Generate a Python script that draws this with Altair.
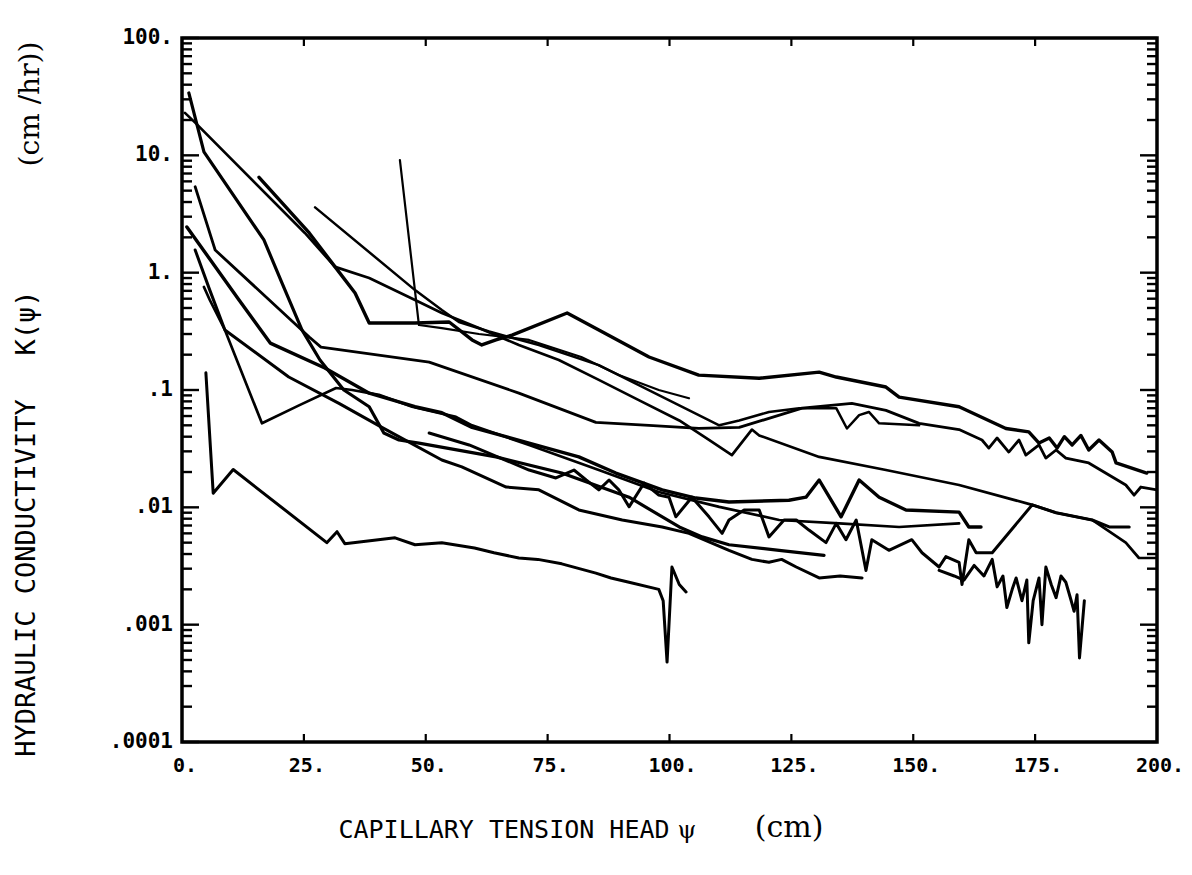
import altair as alt
import pandas as pd

# ---------------- curve data (psi in cm, K in cm/hr) ----------------
a_x = [4.9, 6.4, 10.5, 29.7, 31.8, 33.4, 43.7, 47.8, 53.3, 60.0, 64.0, 69.1, 73.0, 77.9, 84.9, 88.0, 91.7, 97.8, 98.7, 99.5, 100.5, 102.0, 103.4]
a_k = [0.14, 0.0132, 0.021, 0.0050, 0.0062, 0.0049, 0.0055, 0.0048, 0.0050, 0.0045, 0.0041, 0.0037, 0.0036, 0.0033, 0.00275, 0.0025, 0.0023, 0.0020, 0.0016, 0.00048, 0.0031, 0.0022, 0.0019]

b_x = [1.4, 4.5, 16.8, 20.5, 24.6, 28.3, 33.2, 38.4, 41.4, 44.5, 48.6, 64.4, 77.9, 91.7, 102.0, 106.7, 112.2, 122.5, 131.7]
b_k = [34, 10.7, 1.9, 0.82, 0.325, 0.18, 0.10, 0.072, 0.043, 0.0375, 0.0353, 0.0269, 0.0196, 0.0122, 0.0068, 0.0056, 0.0048, 0.0043, 0.0039]

p_x = [0.6, 2.7, 25.2, 31.4, 38.4, 47.8, 53.3, 60.9, 69.1, 77.3, 85.5, 93.7, 102.0, 108.1, 112.8, 116.9, 118.4, 130.7, 144.4, 159.4, 174.4, 179.3, 186.7, 193.6, 196.3, 200.0]
p_k = [23, 19, 2.18, 1.12, 0.90, 0.585, 0.453, 0.337, 0.242, 0.180, 0.122, 0.082, 0.055, 0.0375, 0.0279, 0.046, 0.041, 0.0269, 0.0208, 0.0155, 0.0105, 0.0090, 0.0078, 0.0050, 0.0037, 0.0037]

q_x = [15.8, 26.1, 31.4, 35.5, 38.4, 47.8, 54.8, 59.5, 61.5, 64.4, 67.7, 79.0, 85.5, 95.8, 106.0, 118.4, 130.7, 134.2, 144.4, 147.1, 159.4, 169.0, 173.7, 175.8, 177.9, 179.5, 181.0, 182.6, 184.4, 186.0, 188.1, 190.8, 191.6, 197.9]
q_k = [6.5, 2.18, 1.12, 0.67, 0.372, 0.372, 0.38, 0.267, 0.242, 0.267, 0.294, 0.453, 0.325, 0.191, 0.134, 0.126, 0.142, 0.129, 0.106, 0.087, 0.072, 0.047, 0.044, 0.0353, 0.039, 0.032, 0.040, 0.034, 0.041, 0.0308, 0.0375, 0.0296, 0.0239, 0.0196]

r_x = [27.3, 47.8, 53.3, 56.8, 63.0, 73.2, 85.5, 93.7, 102.0, 110.2, 114.3, 120.4, 126.6, 134.2, 136.4, 138.9, 140.9, 143.0, 151.2]
r_k = [3.6, 0.71, 0.48, 0.38, 0.315, 0.242, 0.163, 0.110, 0.074, 0.050, 0.055, 0.065, 0.070, 0.070, 0.047, 0.061, 0.065, 0.052, 0.050]

sp_x = [44.7, 48.6, 53.3, 60.9, 71.2, 81.9, 89.6, 97.8, 104.0]
sp_k = [9.1, 0.358, 0.337, 0.30, 0.267, 0.191, 0.134, 0.100, 0.085]

s_x = [2.7, 6.8, 26.1, 28.5, 50.7, 69.1, 84.9, 95.8, 106.0, 114.3, 127.2, 137.4, 144.4, 151.2, 159.4, 164.1, 165.5, 167.2, 169.6, 171.7, 173.1, 175.8, 177.2, 179.3, 181.3, 186.0, 193.6, 195.3, 196.7, 200.0]
s_k = [5.4, 1.56, 0.283, 0.232, 0.173, 0.094, 0.053, 0.050, 0.047, 0.048, 0.070, 0.077, 0.067, 0.052, 0.046, 0.0375, 0.032, 0.039, 0.0296, 0.0375, 0.0279, 0.034, 0.0263, 0.0308, 0.0263, 0.0239, 0.0155, 0.0127, 0.0149, 0.0141]

t_x = [1.0, 11.7, 18.1, 29.3, 38.4, 47.8, 53.3, 59.5, 71.2, 81.4, 89.0, 98.5, 105.4, 112.2, 124.5, 128.0, 130.7, 135.2, 138.9, 143.0, 148.5, 159.4, 161.4, 163.9]
t_k = [2.45, 0.585, 0.251, 0.154, 0.094, 0.072, 0.064, 0.048, 0.0353, 0.0269, 0.0196, 0.0141, 0.0120, 0.0111, 0.0115, 0.0122, 0.0171, 0.0083, 0.0171, 0.0122, 0.0095, 0.0091, 0.0068, 0.0068]

v_x = [4.5, 5.7, 8.8, 16.4, 24.0, 31.6, 34.9, 40.4, 47.2, 56.2, 59.5, 71.2, 85.5, 97.8, 110.2, 122.5, 134.8, 147.1, 159.4]
v_k = [0.755, 0.585, 0.325, 0.052, 0.074, 0.104, 0.100, 0.091, 0.072, 0.059, 0.050, 0.034, 0.0208, 0.0135, 0.0101, 0.0078, 0.0073, 0.0068, 0.0073]

w_x = [2.7, 5.7, 8.8, 21.9, 32.2, 41.0, 53.3, 57.4, 66.5, 73.2, 81.4, 90.3, 98.5, 104.0, 112.2, 116.9, 120.4, 123.0, 126.0, 130.7, 135.0, 139.5]
w_k = [1.56, 0.71, 0.325, 0.129, 0.077, 0.048, 0.0253, 0.0221, 0.0149, 0.0141, 0.0095, 0.0078, 0.0068, 0.0060, 0.0043, 0.0036, 0.0034, 0.0036, 0.0031, 0.0025, 0.0026, 0.0025]

n1_x = [50.7, 58.9, 71.2, 76.7, 80.4, 82.9, 85.5, 87.6, 89.6, 91.7, 94.8, 97.8, 99.9, 101.3, 104.6, 108.1, 110.8, 112.2, 115.3, 118.4, 120.4, 123.5, 126.0, 128.6, 132.1, 134.2, 136.2, 138.3, 140.3, 141.5, 145.0, 149.7, 151.8, 155.3, 156.7, 159.4, 160.0, 161.4, 162.9, 166.2, 174.4, 179.3, 186.7, 190.2, 194.3]
n1_k = [0.043, 0.034, 0.0208, 0.0178, 0.0208, 0.0171, 0.0141, 0.0171, 0.0141, 0.0101, 0.0161, 0.0127, 0.0122, 0.0083, 0.0122, 0.0083, 0.0060, 0.0078, 0.0095, 0.0095, 0.0056, 0.0078, 0.0078, 0.0064, 0.0050, 0.0073, 0.0053, 0.0078, 0.0029, 0.0053, 0.0043, 0.0053, 0.0041, 0.0031, 0.0038, 0.0034, 0.0022, 0.0053, 0.0041, 0.0041, 0.0105, 0.0090, 0.0078, 0.0068, 0.0068]

n2_x = [155.3, 158.4, 160.4, 162.5, 164.5, 166.2, 167.2, 168.4, 169.2, 170.3, 171.1, 172.3, 173.3, 173.7, 174.6, 175.8, 176.4, 177.2, 178.3, 179.3, 180.3, 181.3, 182.4, 183.0, 183.6, 184.1, 185.1]
n2_k = [0.0029, 0.0026, 0.0024, 0.0032, 0.0026, 0.0036, 0.0021, 0.0026, 0.0014, 0.0020, 0.0025, 0.0016, 0.0024, 0.0007, 0.0016, 0.0025, 0.0010, 0.0031, 0.0022, 0.0017, 0.0026, 0.0023, 0.0016, 0.0013, 0.0018, 0.00052, 0.0016]

curves = {
    "A": (a_x, a_k, 3.0), "B": (b_x, b_k, 3.2), "P": (p_x, p_k, 2.7),
    "Q": (q_x, q_k, 3.4), "R": (r_x, r_k, 2.5), "Sp": (sp_x, sp_k, 2.2),
    "S": (s_x, s_k, 2.8), "T": (t_x, t_k, 3.4), "V": (v_x, v_k, 2.7),
    "W": (w_x, w_k, 3.0), "N1": (n1_x, n1_k, 3.0), "N2": (n2_x, n2_k, 3.0),
}
rows = []
for name, (xs, ks, w) in curves.items():
    for i, (x, k) in enumerate(zip(xs, ks)):
        rows.append({"curve": name, "psi": x, "K": k, "i": i, "w": w})
df = pd.DataFrame(rows)

# ---------------- axis ticks & labels ----------------
y_major = [0.0001, 0.001, 0.01, 0.1, 1, 10, 100]
y_labels = [".0001", ".001", ".01", ".1", "1.", "10.", "100."]
y_minor = [m * d for d in [0.0001, 0.001, 0.01, 0.1, 1, 10] for m in range(2, 10)]
x_major = [0, 25, 50, 75, 100, 125, 150, 175, 200]
x_labels = ["0.", "25.", "50.", "75.", "100.", "125.", "150.", "175.", "200."]
x_inner = [25, 50, 75, 100, 125, 150, 175]

W, H = 975, 704
xscale = alt.Scale(domain=[0, 200], nice=False, zero=False)
yscale = alt.Scale(type="log", domain=[0.0001, 100], nice=False)

lines = alt.Chart(df).mark_line(color="black", strokeJoin="round", strokeCap="round", clip=True).encode(
    x=alt.X("psi:Q", scale=xscale, axis=None),
    y=alt.Y("K:Q", scale=yscale, axis=None),
    detail="curve:N",
    order="i:Q",
    size=alt.Size("w:Q", scale=None, legend=None),
)

ymin_df = pd.DataFrame({"v": y_minor})
ymaj_df = pd.DataFrame({"v": y_major, "lab": y_labels})
xin_df = pd.DataFrame({"v": x_inner})
xmaj_df = pd.DataFrame({"v": x_major, "lab": x_labels})

def yrule(d, x1, x2, sw):
    return alt.Chart(d).mark_rule(color="black", strokeWidth=sw).encode(
        y=alt.Y("v:Q", scale=yscale, axis=None), x=alt.value(x1), x2=alt.value(x2))

def xrule(d, y1, y2):
    return alt.Chart(d).mark_rule(color="black", strokeWidth=2.2).encode(
        x=alt.X("v:Q", scale=xscale, axis=None), y=alt.value(y1), y2=alt.value(y2))

ticks = [
    yrule(ymin_df, 0, 10, 2.4), yrule(ymaj_df, 0, 17, 2.4),
    yrule(ymin_df, W, W - 10, 2.4), yrule(ymaj_df, W, W - 17, 2.4),
    xrule(xin_df, 0, 8), xrule(xin_df, H, H - 8),
]

ylab = alt.Chart(ymaj_df).mark_text(align="right", baseline="middle", font="DejaVu Sans Mono",
                                    fontWeight="bold", fontSize=21, color="black").encode(
    y=alt.Y("v:Q", scale=yscale, axis=None), x=alt.value(-9), text="lab:N")
xlab = alt.Chart(xmaj_df).mark_text(align="center", baseline="middle", font="DejaVu Sans Mono",
                                    fontWeight="bold", fontSize=20, color="black", dx=3).encode(
    x=alt.X("v:Q", scale=xscale, axis=None), y=alt.value(H + 24), text="lab:N")

def label(txt, x, y, font, size, angle=0):
    return alt.Chart(pd.DataFrame({"t": [txt]})).mark_text(
        font=font, fontSize=size, angle=angle, align="center", baseline="middle", color="black"
    ).encode(x=alt.value(x), y=alt.value(y), text="t:N")

titles = [
    label("CAPILLARY TENSION HEAD", 322, 792, "DejaVu Sans Mono", 25),
    label("ψ", 505, 793, "DejaVu Serif", 24),
    label("(cm)", 607, 790, "DejaVu Serif", 30),
    label("HYDRAULIC CONDUCTIVITY", -155, 540, "DejaVu Sans Mono", 27, 270),
    label("K(ψ)", -155, 285, "DejaVu Sans Mono", 27, 270),
    label("(cm /hr))", -151, 66, "DejaVu Serif", 28, 270),
]

chart = alt.layer(lines, *ticks, ylab, xlab, *titles).properties(
    width=W, height=H,
    autosize=alt.AutoSizeParams(type="none"),
    padding={"left": 174, "top": 30, "right": 27, "bottom": 125},
).configure_view(stroke="black", strokeWidth=3.5)

chart.save("out.html", embed_options={"renderer": "svg", "actions": False})
